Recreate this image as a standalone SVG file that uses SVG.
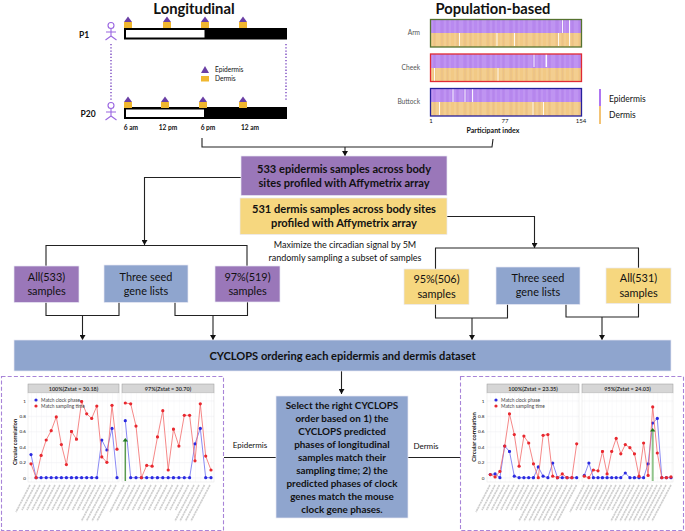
<svg xmlns="http://www.w3.org/2000/svg" width="685" height="531" viewBox="0 0 685 531">
<style>
text{font-family:"Lato","Liberation Sans",sans-serif;fill:#111}
.b{font-weight:700}
.m{text-anchor:middle}
.e{fill:#9a77b9}.d{fill:#f6d77f}.s{fill:#8fa5ce}
.box{stroke:#e8e8f4;stroke-width:.7}
.c{fill:none;stroke:#222;stroke-width:1.1}
.ca{fill:none;stroke:#222;stroke-width:1.1;marker-end:url(#arr)}
.tri{fill:#6a3fa5}.sq{fill:#f0b72f}
.stick{fill:none;stroke:#9a66e0;stroke-width:1.1}
.dots{fill:none;stroke:#7a48c0;stroke-width:1.4;stroke-dasharray:1.3 1.9}
.dash{fill:none;stroke:#a884d8;stroke-width:1.1;stroke-dasharray:4 2.2}
.st{fill:#d6d6d6;stroke:#999;stroke-width:.5}
.pt{font-size:5.500px;font-weight:700;text-anchor:middle;fill:#333}
.tk{font-size:4.600px;fill:#555;text-anchor:end}
.yl{font-weight:700;text-anchor:middle}
.lg{font-size:4.800px;fill:#444}
.red{fill:none;stroke:#f26a6a;stroke-width:.8;marker-start:url(#rd);marker-mid:url(#rd);marker-end:url(#rd)}
.blu{fill:none;stroke:#6b6bf0;stroke-width:.8;marker-start:url(#bd);marker-mid:url(#bd);marker-end:url(#bd)}
.xl{fill:none;stroke:#cfcfcf;stroke-width:1.700;stroke-dasharray:2.200 .5}
.hm{font-size:6.600px;fill:#555;text-anchor:end}
.wl{stroke:#fff;stroke-width:.9}
.lb{font-size:10.900px}
.bb{font-size:11.100px}
</style>
<defs>
<marker id="arr" markerUnits="userSpaceOnUse" markerWidth="6" markerHeight="6" refX="5" refY="3" orient="auto"><path d="M0 0L5 3L0 6Z" fill="#111"/></marker>
<marker id="rd" markerUnits="userSpaceOnUse" markerWidth="4" markerHeight="4" refX="2" refY="2"><circle cx="2" cy="2" r="1.600" fill="#e8282f"/></marker>
<marker id="bd" markerUnits="userSpaceOnUse" markerWidth="4" markerHeight="4" refX="2" refY="2"><circle cx="2" cy="2" r="1.600" fill="#2a2ae0"/></marker>
<pattern id="g1" patternUnits="userSpaceOnUse" x="31" y="0" width="5.060" height="15.400"><rect width="5.060" height="15.400" fill="#fff"/><path d="M0 0V15.400M0 .7H5.060" stroke="#ececf0" stroke-width=".5"/></pattern>
<pattern id="g2" patternUnits="userSpaceOnUse" x="125.300" y="0" width="5.360" height="15.400"><rect width="5.360" height="15.400" fill="#fff"/><path d="M0 0V15.400M0 .7H5.360" stroke="#ececf0" stroke-width=".5"/></pattern>
<pattern id="g3" patternUnits="userSpaceOnUse" x="490.300" y="0" width="4.800" height="15.400"><rect width="4.800" height="15.400" fill="#fff"/><path d="M0 0V15.400M0 .7H4.800" stroke="#ececf0" stroke-width=".5"/></pattern>
<pattern id="g4" patternUnits="userSpaceOnUse" x="584.300" y="0" width="4.560" height="15.400"><rect width="4.560" height="15.400" fill="#fff"/><path d="M0 0V15.400M0 .7H4.560" stroke="#ececf0" stroke-width=".5"/></pattern>
<pattern id="tex" patternUnits="userSpaceOnUse" x="430" y="0" width="23" height="10"><path d="M2 0V10M7 0V10M9 0V10M15 0V10M20 0V10" stroke="#fff" stroke-opacity=".14" stroke-width="1.200"/><path d="M4.500 0V10M12 0V10M17.500 0V10" stroke="#7a50b0" stroke-opacity=".07" stroke-width="1.500"/></pattern>
<g id="mk"><path class="tri" d="M0 -5.500L4 0H-4Z"/><rect class="sq" x="-4" y="0" width="8" height="6"/></g>
<path id="fig" class="stick" d="M0 3V10M-5 6H5M0 10L-5.500 14M0 10L5.500 14"/>
</defs>

<g id="connectors">
<path class="c" d="M202 138V147H492L493 139"/>
<path class="ca" d="M345 147V156"/>
<path class="ca" d="M241 177.500H144.500V245"/>
<path class="c" d="M46 266V245.500H247V266"/>
<path class="c" d="M46 302V315.500H119V302"/>
<path class="ca" d="M82.500 315.500V340"/>
<path class="c" d="M175 302V315.500H247.500V302"/>
<path class="ca" d="M213 315.500V340"/>
<path class="ca" d="M447 216.500H534.500V248"/>
<path class="c" d="M435.500 269V248H638.500V268"/>
<path class="c" d="M435.500 304V318H507.500V304"/>
<path class="ca" d="M472 318V340"/>
<path class="c" d="M566 304V317H638.500V303"/>
<path class="ca" d="M602 317V340"/>
<path class="ca" d="M341.500 371V394"/>
<path class="c" d="M224 457.500H276M408 457.500H460"/>
</g>

<g id="longitudinal">
<text class="b m" x="194" y="13.500" font-size="14.800">Longitudinal</text>
<text class="b" x="79" y="38" font-size="8.500">P1</text>
<text class="b" x="80.500" y="117" font-size="8.500">P20</text>
<circle class="stick" cx="111" cy="25.500" r="3"/><use href="#fig" x="111" y="26"/>
<circle class="stick" cx="111" cy="105.500" r="3"/><use href="#fig" x="111" y="106"/>
<path class="dots" d="M111 44V100M286 44V100"/>
<rect x="124" y="28" width="163" height="11.500" fill="#000"/><rect x="126" y="30" width="78.500" height="7.500" fill="#fff"/>
<rect x="124" y="107" width="163" height="12" fill="#000"/><rect x="126" y="109.500" width="78" height="7.500" fill="#fff"/>
<use href="#mk" x="128" y="22"/><use href="#mk" x="167" y="22"/><use href="#mk" x="205" y="22"/><use href="#mk" x="243" y="22"/>
<use href="#mk" x="128" y="102"/><use href="#mk" x="165" y="102"/><use href="#mk" x="203" y="102"/><use href="#mk" x="243" y="102"/>
<path class="tri" d="M205 66L209 73H201Z"/><rect class="sq" x="201" y="76" width="8" height="5.500"/>
<text x="215" y="72" font-size="6.600" fill="#444">Epidermis</text>
<text x="215" y="81" font-size="6.600" fill="#444">Dermis</text>
<g class="b" font-size="6.600"><text class="m" x="131" y="130">6 am</text><text class="m" x="168" y="130">12 pm</text><text class="m" x="208" y="130">6 pm</text><text class="m" x="250" y="130">12 am</text></g>
</g>

<g id="population">
<text class="b m" x="493" y="13.500" font-size="14.700">Population-based</text>
<text class="hm" x="420" y="35">Arm</text><text class="hm" x="420" y="70">Cheek</text><text class="hm" x="420" y="104">Buttock</text>
<g id="hm-arm"><rect x="430" y="19" width="152" height="14" fill="#b98af0"/><rect x="430" y="33" width="152" height="14" fill="#f2c985"/><rect x="430" y="19" width="152" height="28" fill="url(#tex)"/>
<path class="wl" d="M562.500 20V33M569.500 20V33M459.500 33V46M497 33V46M514.500 33V46M558.500 33V46M569.500 33V46"/>
<rect x="430.500" y="19.500" width="151" height="27.500" fill="none" stroke="#55722f" stroke-width="1.300"/></g>
<g id="hm-cheek"><rect x="430" y="54" width="152" height="14" fill="#b98af0"/><rect x="430" y="68" width="152" height="14" fill="#f2c985"/><rect x="430" y="54" width="152" height="28" fill="url(#tex)"/>
<path class="wl" d="M534 54V67M546 54V67M546.500 54V67M434.500 68V81M498 68V81"/>
<rect x="430.500" y="54" width="151" height="27.500" fill="none" stroke="#e02a33" stroke-width="1.300"/></g>
<g id="hm-buttock"><rect x="430" y="88" width="152" height="14" fill="#b98af0"/><rect x="430" y="102" width="152" height="14" fill="#f2c985"/><rect x="430" y="88" width="152" height="28" fill="url(#tex)"/>
<path class="wl" d="M453 89V102M465 89V102M472.500 89V102M439.500 102V115M533 102V115M543.500 102V115"/>
<rect x="430.500" y="88.500" width="151" height="27.500" fill="none" stroke="#25209c" stroke-width="1.300"/></g>
<text class="m" x="431" y="123" font-size="6" fill="#444">1</text><text class="m" x="505" y="123" font-size="6" fill="#444">77</text><text class="m" x="581" y="123" font-size="6" fill="#444">154</text>
<text class="b m" x="493" y="133" font-size="7">Participant index</text>
<path d="M600 89V106" stroke="#a667f0" stroke-width="1.800"/><path d="M600 106V124" stroke="#f2bd66" stroke-width="1.800"/>
<text x="609" y="102" font-size="8.500">Epidermis</text><text x="609" y="118" font-size="8.500">Dermis</text>
</g>

<g id="n-epidermis"><rect class="e box" x="241" y="156" width="206" height="39.500"/><text class="b m bb" x="344" y="173">533 epidermis samples across body</text><text class="b m bb" x="344" y="187">sites profiled with Affymetrix array</text></g>
<g id="n-dermis"><rect class="d box" x="240" y="198" width="207" height="36.500"/><text class="b m bb" x="344" y="213">531 dermis samples across body sites</text><text class="b m bb" x="344" y="227">profiled with Affymetrix array</text></g>
<g id="n-maximize" font-size="9"><text class="m" x="345" y="248" fill="#333">Maximize the circadian signal by 5M</text><text class="m" x="345" y="261" fill="#333">randomly sampling a subset of samples</text></g>

<g id="n-all533"><rect class="e box" x="14" y="266" width="65" height="36.500"/><text class="m lb" x="46.500" y="281">All(533)</text><text class="m lb" x="46.500" y="295">samples</text></g>
<g id="n-seed-left"><rect class="s box" x="104" y="265" width="84" height="37.500"/><text class="m lb" x="146" y="281">Three seed</text><text class="m lb" x="146" y="295">gene lists</text></g>
<g id="n-97"><rect class="e box" x="215" y="266" width="65" height="36"/><text class="m lb" x="247.500" y="281">97%(519)</text><text class="m lb" x="247.500" y="295">samples</text></g>
<g id="n-95"><rect class="d box" x="404" y="269" width="65" height="35.500"/><text class="m lb" x="436.500" y="283">95%(506)</text><text class="m lb" x="436.500" y="298">samples</text></g>
<g id="n-seed-right"><rect class="s box" x="496" y="267" width="84" height="37.500"/><text class="m lb" x="538" y="282">Three seed</text><text class="m lb" x="538" y="296">gene lists</text></g>
<g id="n-all531"><rect class="d box" x="606" y="268" width="65" height="35.500"/><text class="m lb" x="638.500" y="282">All(531)</text><text class="m lb" x="638.500" y="297">samples</text></g>
<g id="n-cyclops"><rect class="s box" x="14" y="340" width="657" height="31"/><text class="b m bb" x="342.500" y="360">CYCLOPS ordering each epidermis and dermis dataset</text></g>

<g id="n-select"><rect class="s box" x="276" y="396" width="132" height="122"/>
<g class="b m" font-size="9.900"><text x="342" y="409">Select the right CYCLOPS</text><text x="342" y="422">order based on 1) the</text><text x="342" y="435">CYCLOPS predicted</text><text x="342" y="448">phases of longitudinal</text><text x="342" y="461">samples match their</text><text x="342" y="474">sampling time; 2) the</text><text x="342" y="486.500">predicted phases of clock</text><text x="342" y="500">genes match the mouse</text><text x="342" y="512.500">clock gene phases.</text></g></g>
<text class="m" x="250" y="448" font-size="8" fill="#333">Epidermis</text>
<text class="m" x="426" y="449" font-size="8" fill="#333">Dermis</text>

<g id="chart-epidermis">
<rect class="dash" x="1.500" y="376.500" width="222" height="154"/>
<rect class="st" x="28" y="384" width="91" height="9"/><rect class="st" x="122" y="384" width="92" height="9"/>
<text class="pt" x="73.500" y="390.500">100%(Zstat = 30.18)</text><text class="pt" x="168" y="390.500">97%(Zstat = 30.70)</text>
<rect x="28" y="393" width="91" height="89" fill="url(#g1)" stroke="#ddd" stroke-width=".4"/><rect x="122" y="393" width="92" height="89" fill="url(#g2)" stroke="#ddd" stroke-width=".4"/>
<g class="tk"><text x="26" y="402.500">1</text><text x="26" y="418">0.8</text><text x="26" y="433.400">0.6</text><text x="26" y="448.800">0.4</text><text x="26" y="464.200">0.2</text><text x="26" y="479.500">0</text></g>
<text class="yl" font-size="5.400" transform="translate(17 442) rotate(-90)">Circular correlation</text>
<polyline class="blu" points="31,454.600 36.100,477.700 41.100,477.700 46.200,477.700 51.200,477.700 56.300,477.700 61.400,477.700 66.400,477.700 71.500,477.700 76.500,477.700 81.600,477.700 86.700,477.700 91.700,477.700 96.800,477.700 101.800,440 106.900,450 112,428.400 117,477.700"/>
<polyline class="red" points="31,463.800 36.100,477.700 41.100,455.400 46.200,440 51.200,430.700 56.300,416.900 61.400,444.600 66.400,464.600 71.500,431.500 76.500,439.200 81.600,401.500 86.700,413.800 91.700,418.400 96.800,406.100 101.800,456.900 106.900,462.300 112,405.300 117,449.200"/>
<path d="M125.300 481V441" stroke="#5a9a50" stroke-width="1.500"/>
<polyline class="blu" points="125.300,420.700 130.700,477.700 136,477.700 141.400,477.700 146.700,477.700 152.100,477.700 157.500,477.700 162.800,477.700 168.200,477.700 173.500,477.700 178.900,477.700 184.300,477.700 189.600,477.700 195,443.800 200.300,428.400 205.700,477.700 211,477.700"/>
<polyline class="red" points="125.300,403 130.700,403.800 136,426.100 141.400,477.700 146.700,465.400 152.100,466.200 157.500,436.900 162.800,410.700 168.200,470 173.500,429.200 178.900,446.100 184.300,415.300 189.600,415.300 195,460.800 200.300,403.800 205.700,456.100 211,470"/>
<path d="M125.300 438L128 441.500H122.600Z" fill="#1f7a1f"/>
<circle cx="36" cy="400" r="1.600" fill="#2a2ae0"/><circle cx="36" cy="406" r="1.600" fill="#e8282f"/>
<text class="lg" x="41" y="401.500">Match clock phase</text><text class="lg" x="41" y="407.500">Match sampling time</text>
<path class="xl" d="M30 485l-14 27M35 485l-13 25M40 485l-13 25M45 485l-13 25M50 485l-13 25M55 485l-13 25M60 485l-13 25M65 485l-13 25M70 485l-13 25M75 485l-13 25M80 485l-13 25M85.500 485l-13 25M90.500 485l-13 25M95.500 485l-13 25M100.500 485l-19 36M105.500 485l-19 36M111 485l-19 36M116 485l-19 36M124 485l-14 27M129.500 485l-13 25M135 485l-13 25M140 485l-13 25M145.500 485l-13 25M151 485l-13 25M156 485l-13 25M161.500 485l-13 25M167 485l-13 25M172.500 485l-13 25M178 485l-13 25M183 485l-13 25M188.500 485l-13 25M194 485l-19 36M199 485l-19 36M204.500 485l-19 36M210 485l-19 36"/>
</g>

<g id="chart-dermis">
<rect class="dash" x="460.500" y="376.500" width="223" height="154"/>
<rect class="st" x="487" y="384" width="92" height="9"/><rect class="st" x="582" y="384" width="91" height="9"/>
<text class="pt" x="533" y="390.500">100%(Zstat = 23.35)</text><text class="pt" x="627.500" y="390.500">95%(Zstat = 24.03)</text>
<rect x="487" y="393" width="92" height="89" fill="url(#g3)" stroke="#ddd" stroke-width=".4"/><rect x="582" y="393" width="91" height="89" fill="url(#g4)" stroke="#ddd" stroke-width=".4"/>
<g class="tk"><text x="484.500" y="402.500">1</text><text x="484.500" y="418">0.8</text><text x="484.500" y="433.400">0.6</text><text x="484.500" y="448.800">0.4</text><text x="484.500" y="464.200">0.2</text><text x="484.500" y="479.500">0</text></g>
<text class="yl" font-size="5.800" transform="translate(476 437) rotate(-90)">Circular correlation</text>
<polyline class="blu" points="490.300,474.600 495.100,473.900 499.900,477.700 504.700,446.100 509.500,451.500 514.300,476.200 519.100,477.700 523.900,477.700 528.700,477.700 533.500,477.700 538.300,466.900 543.100,476.200 547.900,477.700 552.700,463 557.500,477.700 562.300,477.700 567.100,477.700 571.900,477.700 576.700,477.700"/>
<polyline class="red" points="490.300,474.600 495.100,476.900 499.900,471.500 504.700,446.100 509.500,413.800 514.300,434.600 519.100,466.200 523.900,436.100 528.700,443 533.500,463.800 538.300,477.700 543.100,435.300 547.900,434.600 552.700,476.200 557.500,477.700 562.300,473.900 567.100,477.700 571.900,477.700 576.700,443.800"/>
<path d="M652.700 481V431" stroke="#8fc48a" stroke-width="2"/>
<polyline class="blu" points="584.300,475.400 588.900,463 593.400,477.700 598,477.700 602.500,477.700 607.100,477.700 611.700,477.700 616.200,477.700 620.800,477.700 625.300,473 629.900,477.700 634.500,477.700 639,477.700 643.600,477.700 648.100,463.800 652.700,423 657.300,418.400 661.800,477.700 666.400,477.700 671,477.700"/>
<polyline class="red" points="584.300,476.200 588.900,477.700 593.400,470 598,470.800 602.500,451.500 607.100,473.900 611.700,451.500 616.200,438.400 620.800,453.800 625.300,444.600 629.900,447.700 634.500,453.800 639,476.200 643.600,443 648.100,475.400 652.700,406.900 657.300,453 661.800,477.700 666.400,477.700 671,476.900"/>
<path d="M652.700 428L655.400 431.500H650Z" fill="#1f7a1f"/>
<circle cx="496" cy="400" r="1.600" fill="#2a2ae0"/><circle cx="496" cy="406" r="1.600" fill="#e8282f"/>
<text class="lg" x="501" y="401.500">Match clock phase</text><text class="lg" x="501" y="407.500">Match sampling time</text>
<path class="xl" d="M490 485l-14 27M495 485l-13 25M499.500 485l-13 25M504.500 485l-13 25M509 485l-13 25M514 485l-13 25M519 485l-13 25M524 485l-13 25M528.500 485l-13 25M533.500 485l-13 25M538 485l-19 36M543 485l-19 36M548 485l-19 36M552.500 485l-19 36M557.500 485l-19 36M562 485l-19 36M567 485l-19 36M572 485l-19 36M576.500 485l-19 36M584 485l-14 27M589 485l-13 25M593 485l-13 25M598 485l-13 25M602 485l-13 25M607 485l-13 25M611.500 485l-13 25M616 485l-13 25M620.500 485l-13 25M625 485l-13 25M630 485l-19 36M634 485l-19 36M639 485l-19 36M643.500 485l-19 36M648 485l-19 36M652.500 485l-19 36M657 485l-19 36M661.500 485l-19 36M666 485l-19 36M671 485l-19 36"/>
</g>
</svg>
